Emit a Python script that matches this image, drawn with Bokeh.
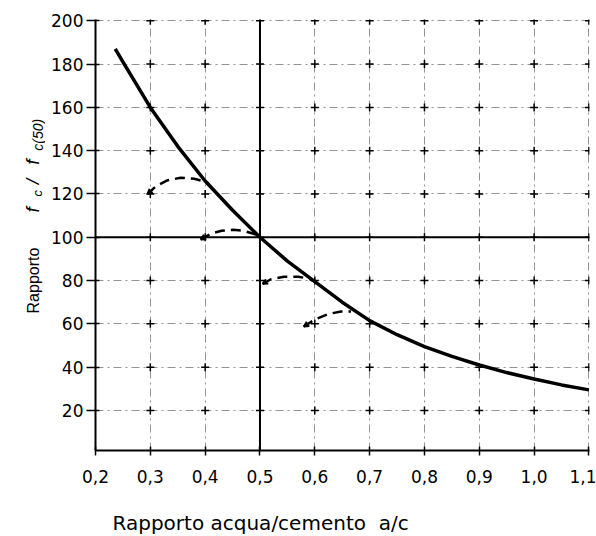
import math
from bokeh.plotting import figure
from bokeh.layouts import row, column
from bokeh.models import FixedTicker, Span, Label, Arrow, OpenHead, Range1d
from bokeh.embed import file_html
from bokeh.resources import INLINE

# --- data ---
x_ticks = [0.2, 0.3, 0.4, 0.5, 0.6, 0.7, 0.8, 0.9, 1.0, 1.1]
x_tick_labels = ["0,2", "0,3", "0,4", "0,5", "0,6", "0,7", "0,8", "0,9", "1,0", "1,1"]
y_ticks = [20, 40, 60, 80, 100, 120, 140, 160, 180, 200]

curve_x = [0.236, 0.25, 0.30, 0.35, 0.40, 0.45, 0.50, 0.55, 0.60, 0.65, 0.70,
           0.75, 0.80, 0.85, 0.90, 0.95, 1.00, 1.05, 1.10]
curve_y = [187, 181, 160, 142, 126, 112.5, 100, 89, 79.5, 70, 61.5,
           55, 49.5, 45, 41, 37.5, 34.5, 31.8, 29.5]

arc1_x = [0.295, 0.31, 0.33, 0.355, 0.38, 0.395, 0.407]
arc1_y = [120, 123.5, 126.2, 127.5, 127.0, 126.0, 124.5]
arc2_x = [0.392, 0.41, 0.43, 0.452, 0.47, 0.49, 0.50]
arc2_y = [99, 101.6, 103.0, 103.5, 103.0, 101.5, 100]
arc3_x = [0.505, 0.52, 0.544, 0.57, 0.59, 0.60]
arc3_y = [78.5, 80.6, 81.8, 81.8, 80.8, 79.5]
arc4_x = [0.58, 0.60, 0.625, 0.648, 0.666]
arc4_y = [58.8, 62.0, 64.6, 65.7, 65.7]

ref_x = 0.5
ref_y = 100

x_title = "Rapporto acqua/cemento\u00a0\u00a0a/c"
y_title_pieces = ["Rapporto", "f", "c", "/", "f", "c(50)"]

FONT = "DejaVu Sans"
YFONT = "Liberation Sans"

LEFT_W = 45
BOTTOM_H = 46
TOP_H = 536 - BOTTOM_H
x_lo, x_hi = 0.2, 1.101
y_lo, y_hi = 1.5, 200.6
xr = Range1d(x_lo, x_hi)
yr = Range1d(y_lo, y_hi)

p = figure(width=596 - LEFT_W, height=TOP_H, output_backend="svg", toolbar_location=None,
           x_range=xr, y_range=yr,
           min_border_left=95 - LEFT_W, min_border_right=7, min_border_top=19,
           min_border_bottom=TOP_H - 450)
p.outline_line_color = None
p.background_fill_color = "white"
p.border_fill_color = "white"

# axes
p.xaxis.ticker = FixedTicker(ticks=x_ticks)
p.xaxis.major_label_overrides = {t: l for t, l in zip(x_ticks, x_tick_labels)}
p.yaxis.ticker = FixedTicker(ticks=y_ticks)
p.xaxis.minor_tick_line_color = None
p.yaxis.minor_tick_line_color = None
for ax in (p.xaxis, p.yaxis):
    ax.axis_line_color = "black"
    ax.axis_line_width = 2
    ax.major_tick_line_color = "black"
    ax.major_tick_line_width = 1.5
    ax.major_label_text_font = FONT
    ax.major_label_text_font_size = "17px"
    ax.major_label_text_color = "black"
p.xaxis.major_tick_in = 4
p.xaxis.major_tick_out = 5
p.xaxis.major_label_standoff = 14
p.yaxis.major_tick_in = 4
p.yaxis.major_tick_out = 9
p.yaxis.major_label_standoff = 3

# grid: dash-dot
p.xgrid.ticker = FixedTicker(ticks=x_ticks[1:])
p.ygrid.ticker = FixedTicker(ticks=y_ticks)
for g in (p.xgrid, p.ygrid):
    g.grid_line_color = "#555555"
    g.grid_line_width = 0.9
    g.grid_line_dash = "8 4 2 4"
    g.grid_line_alpha = 0.7

# reference solid lines
p.add_layout(Span(location=ref_x, dimension="height", line_color="black", line_width=2))
p.add_layout(Span(location=ref_y, dimension="width", line_color="black", line_width=2))

# crosses at grid intersections
cx, cy = [], []
for xv in x_ticks[1:]:
    for yv in y_ticks:
        cx.append(xv)
        cy.append(yv)
p.scatter(cx, cy, marker="cross", size=8, line_color="black", line_width=1.5)

# main curve
p.line(curve_x, curve_y, line_color="black", line_width=3.5, line_join="round")

# dashed arcs with arrow heads
for ax_, ay_ in ((arc1_x, arc1_y), (arc2_x, arc2_y), (arc3_x, arc3_y), (arc4_x, arc4_y)):
    p.line(ax_, ay_, line_color="black", line_width=2.5, line_dash="10 6")
    p.add_layout(Arrow(end=OpenHead(size=5, line_width=2, line_color="black"),
                       x_start=ax_[1], y_start=ay_[1], x_end=ax_[0], y_end=ay_[0],
                       line_alpha=0))

# left narrow figure carrying the composed y title (shares the y range)
q = figure(width=LEFT_W, height=TOP_H, output_backend="svg", toolbar_location=None,
           x_range=Range1d(0, LEFT_W), y_range=yr,
           min_border_left=0, min_border_right=0,
           min_border_top=19, min_border_bottom=TOP_H - 450)
q.axis.visible = False
q.grid.visible = False
q.outline_line_color = None
q.background_fill_color = "white"
q.border_fill_color = "white"

ang = math.pi / 2
styles = [("normal", "16px", 33, 64.8),
          ("italic", "19px", 32, 111.4),
          ("italic", "13px", 37, 118.8),
          ("italic", "19px", 32, 124.5),
          ("italic", "19px", 32, 133.5),
          ("italic", "14px", 37, 140.0)]
for txt, (style, size, lx, ly) in zip(y_title_pieces, styles):
    q.add_layout(Label(x=lx, y=ly, text=txt, angle=ang,
                       text_font=YFONT, text_font_style=style, text_font_size=size,
                       text_color="black", text_baseline="alphabetic", text_align="left"))

# bottom strip carrying the x title (shares the x range)
r = figure(width=596, height=BOTTOM_H, output_backend="svg", toolbar_location=None,
           x_range=xr, y_range=Range1d(0, BOTTOM_H),
           min_border_left=95, min_border_right=7, min_border_top=0, min_border_bottom=0)
r.axis.visible = False
r.grid.visible = False
r.outline_line_color = None
r.background_fill_color = "white"
r.border_fill_color = "white"
r.add_layout(Label(x=x_lo, y=14, x_offset=17, text=x_title,
                   text_font=FONT, text_font_size="20px", text_color="black",
                   text_baseline="middle", text_align="left"))

layout = column(row(q, p, spacing=0), r, spacing=0)
open("out.html", "w").write(file_html(layout, INLINE))
